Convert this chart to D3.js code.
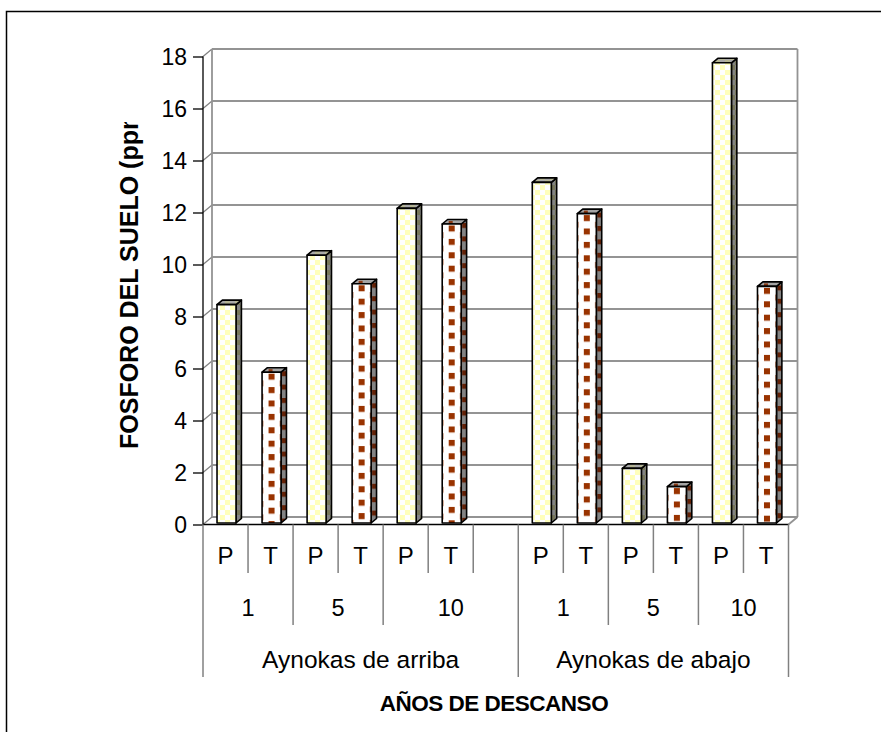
<!DOCTYPE html>
<html>
<head>
<meta charset="utf-8">
<script src="https://cdn.jsdelivr.net/npm/d3@7"></script>
<style>
  html, body { margin: 0; padding: 0; background: #fff; }
  svg { display: block; font-family: "Liberation Sans", Arial, sans-serif; }
</style>
</head>
<body>
<svg id="chart" width="881" height="732"></svg>
<script>
// ---- data ----
const groups = ["Aynokas de arriba", "Aynokas de abajo"];
const years = ["1", "5", "10"];
const types = ["P", "T"];
const arribaValues = [8.4, 5.8, 10.3, 9.2, 12.1, 11.5];   // P,T per year 1,5,10
const abajoValues = [13.1, 11.9, 2.1, 1.4, 17.7, 9.1];
const yTicks = [0, 2, 4, 6, 8, 10, 12, 14, 16, 18];
const yTitle = "FOSFORO DEL SUELO (ppm)";
const xTitle = "AÑOS DE DESCANSO";

// ---- category slots (the upper group keeps an empty slot after year 10) ----
const seriesByGroup = [arribaValues, abajoValues];
const slots = [];
groups.forEach((g, gi) => {
  years.forEach((yr, yi) => {
    types.forEach((t, ti) => {
      slots.push({ gi, yi, type: t, value: seriesByGroup[gi][yi * 2 + ti], key: `${gi}-${yi}-${t}` });
    });
  });
  if (gi === 0) slots.push({ gi, yi: years.length - 1, type: "", value: null, key: `${gi}-blank` });
});

const svg = d3.select("#chart");
const defs = svg.append("defs");

// ---- scales (front plane) and depth offset ----
const x = d3.scaleBand().domain(slots.map(d => d.key)).range([203, 788.5]).padding(0);
const y = d3.scaleLinear().domain([0, 18]).range([524.5, 56.5]);
const DX = 9, DY = -7.5;          // front -> back wall
const F0 = 0.2, F1 = 0.8;          // bar front / back depth fractions
const bw = x.bandwidth();
const barW = 19;

// ---- outer frame ----
svg.append("rect").attr("x", 6.5).attr("y", 11.5).attr("width", 900).attr("height", 760)
  .attr("fill", "#fff").attr("stroke", "#000").attr("stroke-width", 1.5);

// ---- walls ----
const xL = x.range()[0], xR = x.range()[1];
const yTop = y(18), yBot = y(0);
const wall = svg.append("g");
// back wall
wall.append("rect").attr("x", xL + DX).attr("y", yTop + DY)
  .attr("width", xR - xL).attr("height", yBot - yTop).attr("fill", "#fff");
// gridlines on back wall
wall.selectAll("line.grid").data(yTicks.filter(t => t > 0 && t < 18)).join("line")
  .attr("x1", xL + DX).attr("x2", xR + DX)
  .attr("y1", d => y(d) + DY).attr("y2", d => y(d) + DY)
  .attr("stroke", "#2a2a2a").attr("stroke-width", 1.2);
// side-wall diagonals at each tick
wall.selectAll("line.diag").data(yTicks).join("line")
  .attr("x1", xL).attr("y1", d => y(d))
  .attr("x2", xL + DX).attr("y2", d => y(d) + DY)
  .attr("stroke", "#808080").attr("stroke-width", 1.2);
const grayEdge = (x1, y1, x2, y2) => wall.append("line")
  .attr("x1", x1).attr("y1", y1).attr("x2", x2).attr("y2", y2)
  .attr("stroke", "#939393").attr("stroke-width", 1.8);
grayEdge(xL + DX, yTop + DY, xR + DX, yTop + DY);   // top of back wall
grayEdge(xR + DX, yTop + DY, xR + DX, yBot + DY);   // right edge of back wall
grayEdge(xL + DX, yTop + DY, xL + DX, yBot + DY);   // side wall back edge
grayEdge(xL + DX, yBot + DY, xR + DX, yBot + DY);   // floor back edge
grayEdge(xR, yBot, xR + DX, yBot + DY);             // floor right diagonal

// ---- patterns ----
function checker(id, a, b, s) {
  const p = defs.append("pattern").attr("id", id).attr("patternUnits", "userSpaceOnUse")
    .attr("width", s * 2).attr("height", s * 2);
  p.append("rect").attr("width", s * 2).attr("height", s * 2).attr("fill", a);
  p.append("rect").attr("x", s).attr("width", s).attr("height", s).attr("fill", b);
  p.append("rect").attr("y", s).attr("width", s).attr("height", s).attr("fill", b);
}
checker("pFront", "#ffffff", "#ffffbc", 5);
checker("pSide", "#838383", "#77775a", 5);
checker("pTop", "#a8a8a8", "#b4b494", 5);

function dots(id, bg, fg, ox, oy, sz) {
  const W = 23, H = 13.4;
  const p = defs.append("pattern").attr("id", id).attr("patternUnits", "userSpaceOnUse")
    .attr("width", W).attr("height", H)
    .attr("patternTransform", `translate(${ox},${oy})`);
  p.append("rect").attr("width", W).attr("height", H).attr("fill", bg);
  p.append("rect").attr("x", 0).attr("y", 0).attr("width", sz).attr("height", sz).attr("fill", fg);
  p.append("rect").attr("x", W / 2).attr("y", H / 2).attr("width", sz).attr("height", sz).attr("fill", fg);
  p.append("rect").attr("x", W).attr("y", H / 2).attr("width", sz).attr("height", sz).attr("fill", fg);
  p.append("rect").attr("x", -W / 2).attr("y", H / 2).attr("width", sz).attr("height", sz).attr("fill", fg);
}

// ---- bars ----
const bars = svg.append("g");
const barData = slots.filter(d => d.value != null);
barData.forEach((d, i) => {
  const cx = x(d.key) + bw / 2;
  const x0 = cx - 10.3 + DX * F0;
  const base = y(0) + DY * F0;
  const top = y(d.value) + DY * F0;
  const ddx = DX * (F1 - F0), ddy = DY * (F1 - F0);
  let front, side, topFill;
  if (d.type === "P") {
    front = "url(#pFront)"; side = "url(#pSide)"; topFill = "url(#pTop)";
  } else {
    const sqx = x0 + barW / 2 - 3;
    dots(`tFront${i}`, "#ffffff", "#993300", sqx, top + 1.5, 6);
    dots(`tSide${i}`, "#838383", "#632005", x0 + barW + 1, top - 1, 5);
    dots(`tTop${i}`, "#a4a4a4", "#8a3a14", sqx, top - 3, 4);
    front = `url(#tFront${i})`; side = `url(#tSide${i})`; topFill = `url(#tTop${i})`;
  }
  const g = bars.append("g").attr("stroke", "#000").attr("stroke-width", 1.6).attr("stroke-linejoin", "round");
  g.append("polygon")
    .attr("points", [[x0 + barW, top], [x0 + barW + ddx, top + ddy], [x0 + barW + ddx, base + ddy], [x0 + barW, base]].join(" "))
    .attr("fill", side);
  g.append("polygon")
    .attr("points", [[x0, top], [x0 + ddx, top + ddy], [x0 + barW + ddx, top + ddy], [x0 + barW, top]].join(" "))
    .attr("fill", topFill);
  g.append("rect").attr("x", x0).attr("y", top).attr("width", barW).attr("height", base - top)
    .attr("fill", front);
});

// ---- value axis ----
const yAxis = d3.axisLeft(y).tickValues(yTicks).tickSize(10).tickPadding(6).tickFormat(d3.format("d"));
const ga = svg.append("g").attr("transform", `translate(${xL},0)`).call(yAxis);
ga.select(".domain").attr("stroke", "#000").attr("stroke-width", 1.3).attr("d", `M0,${yTop}V${yBot}`);
ga.selectAll(".tick line").attr("stroke", "#000").attr("stroke-width", 1.3);
ga.selectAll(".tick text").attr("font-size", 23).attr("fill", "#000")
  .attr("font-family", "Liberation Sans, Arial, sans-serif").attr("dy", "0.36em");

// ---- category axis ----
const cat = svg.append("g");
cat.append("line").attr("x1", xL).attr("x2", xR).attr("y1", yBot).attr("y2", yBot)
  .attr("stroke", "#000").attr("stroke-width", 1.5);
const lvlBottom = [573, 625, 677];
const bounds = [];
for (let i = 0; i <= slots.length; i++) {
  const prev = slots[i - 1], cur = slots[i];
  let lvl;
  if (!prev || !cur || prev.gi !== cur.gi) lvl = 2;
  else if (prev.yi !== cur.yi) lvl = 1;
  else lvl = 0;
  bounds.push({ xpos: i < slots.length ? x(cur.key) : xR, lvl });
}
cat.selectAll("line.sep").data(bounds).join("line")
  .attr("x1", d => d.xpos).attr("x2", d => d.xpos)
  .attr("y1", yBot).attr("y2", d => lvlBottom[d.lvl])
  .attr("stroke", "#808080").attr("stroke-width", 1.5);

cat.selectAll("text.type").data(slots.filter(d => d.type)).join("text")
  .attr("x", d => x(d.key) + bw / 2).attr("y", 564)
  .attr("text-anchor", "middle").attr("font-size", 24).text(d => d.type);

// year spans and group spans
const yearSpans = d3.groups(slots, d => d.gi, d => d.yi).flatMap(([gi, ys]) =>
  ys.map(([yi, arr]) => ({ label: years[yi], x0: x(arr[0].key), x1: x(arr[arr.length - 1].key) + bw })));
cat.selectAll("text.year").data(yearSpans).join("text")
  .attr("x", d => (d.x0 + d.x1) / 2).attr("y", 616)
  .attr("text-anchor", "middle").attr("font-size", 23.5).text(d => d.label);

const groupSpans = d3.groups(slots, d => d.gi).map(([gi, arr]) =>
  ({ label: groups[gi], x0: x(arr[0].key), x1: x(arr[arr.length - 1].key) + bw }));
cat.selectAll("text.group").data(groupSpans).join("text")
  .attr("x", d => (d.x0 + d.x1) / 2).attr("y", 668)
  .attr("text-anchor", "middle").attr("font-size", 24.5).text(d => d.label);

// ---- axis titles ----
svg.append("text").attr("x", 494).attr("y", 711).attr("text-anchor", "middle")
  .attr("font-size", 22.5).attr("font-weight", "bold").attr("letter-spacing", -0.5).text(xTitle);

defs.append("clipPath").attr("id", "yTitleClip")
  .append("rect").attr("x", 0).attr("y", 122).attr("width", 200).attr("height", 600);
svg.append("g").attr("clip-path", "url(#yTitleClip)")
  .append("text").attr("transform", "translate(138,449) rotate(-90)")
  .attr("text-anchor", "start").attr("font-size", 25).attr("font-weight", "bold").text(yTitle);
</script>
</body>
</html>
